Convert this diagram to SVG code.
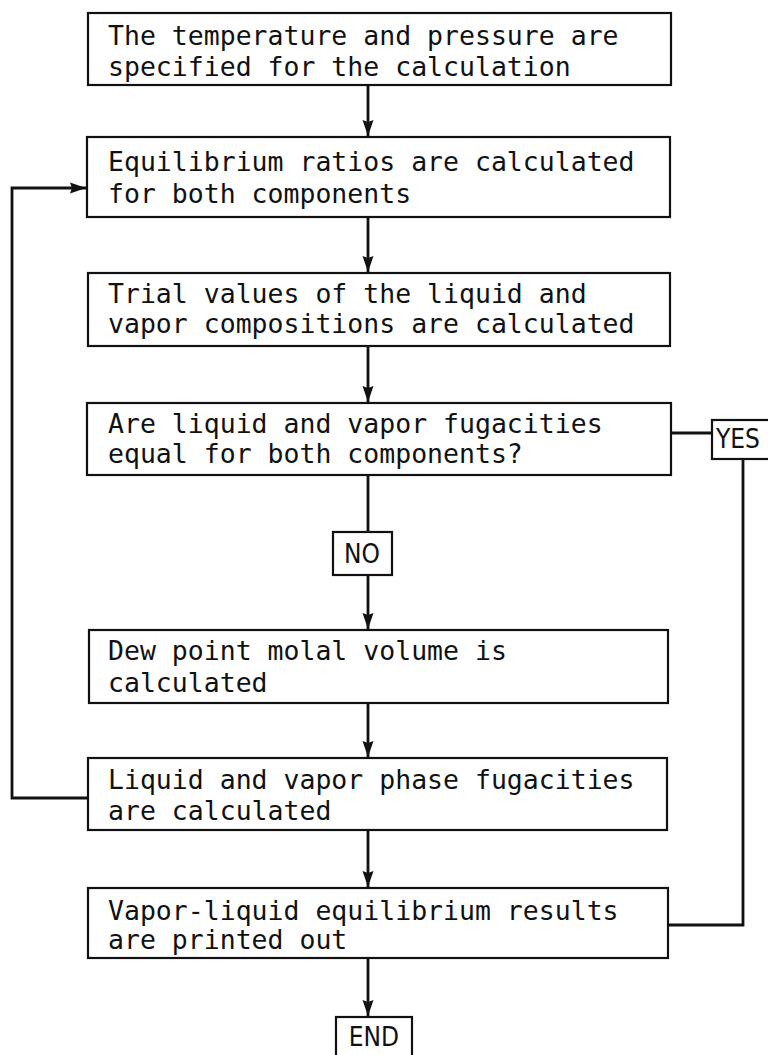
<svg xmlns="http://www.w3.org/2000/svg" width="768" height="1055" viewBox="0 0 768 1055">
  <defs>
    <marker id="arrow" viewBox="0 0 16 12" refX="16" refY="6" markerWidth="16" markerHeight="12" markerUnits="userSpaceOnUse" orient="auto">
      <path d="M0,0.5 L16,6 L0,11.5 L2,6 Z" fill="#111"/>
    </marker>
  </defs>
  <style>
    .box { fill: #fff; stroke: #111; stroke-width: 2.2; }
    .lbl { font-family: "DejaVu Sans Mono", "Liberation Mono", monospace; font-size: 26.5px; fill: #111; }
    .tag { font-family: "DejaVu Sans Condensed", "DejaVu Sans", sans-serif; font-size: 26px; fill: #111; }
    .link { fill: none; stroke: #111; stroke-width: 2.8; }
  </style>
  <rect width="768" height="1055" fill="#fff"/>

  <g id="connectors">
    <line class="link" x1="368" y1="85" x2="368" y2="136" marker-end="url(#arrow)"/>
    <line class="link" x1="368" y1="217" x2="368" y2="272" marker-end="url(#arrow)"/>
    <line class="link" x1="368" y1="346" x2="368" y2="402" marker-end="url(#arrow)"/>
    <line class="link" x1="368" y1="475" x2="368" y2="532"/>
    <line class="link" x1="368" y1="575" x2="368" y2="629" marker-end="url(#arrow)"/>
    <line class="link" x1="368" y1="703" x2="368" y2="757" marker-end="url(#arrow)"/>
    <line class="link" x1="368" y1="830" x2="368" y2="887" marker-end="url(#arrow)"/>
    <line class="link" x1="368" y1="958" x2="368" y2="1016" marker-end="url(#arrow)"/>
    <!-- loop back from fugacity calculation to equilibrium ratios -->
    <polyline class="link" points="88,798 12,798 12,188 86,188" marker-end="url(#arrow)"/>
    <!-- YES branch -->
    <line class="link" x1="671" y1="433" x2="712" y2="433"/>
    <polyline class="link" points="743,459 743,925 668,925"/>
  </g>

  <g id="n1">
    <rect class="box" x="88" y="13" width="583" height="72"/>
    <text class="lbl" x="108" y="45">The temperature and pressure are</text>
    <text class="lbl" x="108" y="76">specified for the calculation</text>
  </g>
  <g id="n2">
    <rect class="box" x="87" y="137" width="583" height="80"/>
    <text class="lbl" x="108" y="171">Equilibrium ratios are calculated</text>
    <text class="lbl" x="108" y="203">for both components</text>
  </g>
  <g id="n3">
    <rect class="box" x="88" y="273" width="582" height="73"/>
    <text class="lbl" x="108" y="303">Trial values of the liquid and</text>
    <text class="lbl" x="108" y="333">vapor compositions are calculated</text>
  </g>
  <g id="n4">
    <rect class="box" x="87" y="403" width="584" height="72"/>
    <text class="lbl" x="108" y="433">Are liquid and vapor fugacities</text>
    <text class="lbl" x="108" y="463">equal for both components?</text>
  </g>
  <g id="yes">
    <rect class="box" x="712" y="420" width="60" height="39"/>
    <text class="tag" x="716" y="448" font-size="28">YES</text>
  </g>
  <g id="no">
    <rect class="box" x="333" y="532" width="59" height="43"/>
    <text class="tag" x="362" y="563" text-anchor="middle">NO</text>
  </g>
  <g id="n5">
    <rect class="box" x="89" y="630" width="579" height="73"/>
    <text class="lbl" x="108" y="660">Dew point molal volume is</text>
    <text class="lbl" x="108" y="692">calculated</text>
  </g>
  <g id="n6">
    <rect class="box" x="88" y="758" width="579" height="72"/>
    <text class="lbl" x="108" y="789">Liquid and vapor phase fugacities</text>
    <text class="lbl" x="108" y="820">are calculated</text>
  </g>
  <g id="n7">
    <rect class="box" x="88" y="888" width="580" height="70"/>
    <text class="lbl" x="108" y="920">Vapor-liquid equilibrium results</text>
    <text class="lbl" x="108" y="949">are printed out</text>
  </g>
  <g id="end">
    <rect class="box" x="336" y="1017" width="76" height="42"/>
    <text class="tag" x="374" y="1046" text-anchor="middle">END</text>
  </g>
</svg>
